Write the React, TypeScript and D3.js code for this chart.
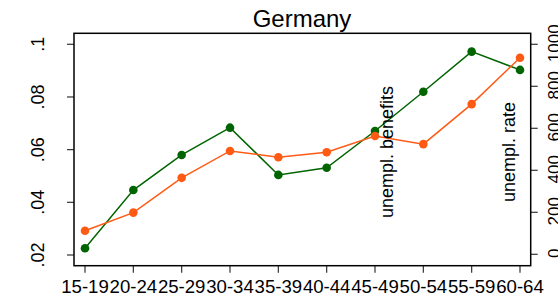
import { useEffect, useRef } from 'react';
import * as d3 from 'd3';

// age groups on the x axis
const ageGroups = ['15-19', '20-24', '25-29', '30-34', '35-39', '40-44', '45-49', '50-54', '55-59', '60-64'];
// unemployment rate (left axis)
const unemplRate = [0.0292, 0.0361, 0.0493, 0.0595, 0.0571, 0.059, 0.0652, 0.0621, 0.0773, 0.0949];
// unemployment benefits (right axis)
const unemplBenefits = [29, 306, 473, 603, 378, 412, 587, 774, 965, 878];
const leftTicks = [0.02, 0.04, 0.06, 0.08, 0.1];
const leftTickLabels = ['.02', '.04', '.06', '.08', '.1'];
const rightTicks = [0, 200, 400, 600, 800, 1000];

const App = () => {
  const svgRef = useRef<SVGSVGElement>(null);

  useEffect(() => {
    const width = 558;
    const height = 300;
    const box = { left: 74, right: 530.7, top: 33.3, bottom: 265.7 };
    const font = 'Liberation Sans, Arial, sans-serif';
    const green = '#006400';
    const orange = '#ff5a14';

    const svg = d3.select(svgRef.current)
      .attr('width', width)
      .attr('height', height)
      .style('background-color', '#ffffff');

    svg.selectAll('*').remove();

    // scales
    const x = d3.scalePoint<string>()
      .domain(ageGroups)
      .range([85, 520]);

    const yLeft = d3.scaleLinear()
      .domain([0.02, 0.1])
      .range([255, 44.3]);

    const yRight = d3.scaleLinear()
      .domain([0, 1000])
      .range([254.3, 44.3]);

    // title
    svg.append('text')
      .attr('x', 302)
      .attr('y', 26.5)
      .attr('text-anchor', 'middle')
      .style('font-family', font)
      .style('font-size', '24px')
      .text('Germany');

    // left axis
    const gl = svg.append('g').attr('transform', `translate(${box.left},0)`);
    gl.selectAll('line')
      .data(leftTicks)
      .enter()
      .append('line')
      .attr('x1', -7)
      .attr('x2', 0)
      .attr('y1', d => yLeft(d))
      .attr('y2', d => yLeft(d))
      .attr('stroke', '#333')
      .attr('stroke-width', 1.2);
    gl.selectAll('text')
      .data(leftTicks)
      .enter()
      .append('text')
      .attr('transform', d => `translate(${43.5 - box.left},${yLeft(d)})rotate(-90)`)
      .attr('text-anchor', 'middle')
      .style('font-family', font)
      .style('font-size', '18px')
      .text((d, i) => leftTickLabels[i]);

    // right axis (labels run off the right edge, as in the original)
    const gr = svg.append('g').attr('transform', `translate(${box.right},0)`);
    gr.selectAll('line')
      .data(rightTicks)
      .enter()
      .append('line')
      .attr('x1', 0)
      .attr('x2', 7)
      .attr('y1', d => yRight(d))
      .attr('y2', d => yRight(d))
      .attr('stroke', '#333')
      .attr('stroke-width', 1.2);
    gr.selectAll('text')
      .data(rightTicks)
      .enter()
      .append('text')
      .attr('transform', d => `translate(${559.5 - box.right},${yRight(d) - 1})rotate(-90)`)
      .attr('text-anchor', 'middle')
      .style('font-family', font)
      .style('font-size', '17px')
      .text(d => String(d));

    // x axis
    const gx = svg.append('g').attr('transform', `translate(0,${box.bottom})`);
    gx.selectAll('line')
      .data(ageGroups)
      .enter()
      .append('line')
      .attr('x1', d => x(d)!)
      .attr('x2', d => x(d)!)
      .attr('y1', 0)
      .attr('y2', 7)
      .attr('stroke', '#333')
      .attr('stroke-width', 1.2);
    gx.selectAll('text')
      .data(ageGroups)
      .enter()
      .append('text')
      .attr('x', d => x(d)!)
      .attr('y', 27.5)
      .attr('text-anchor', 'middle')
      .style('font-family', font)
      .style('font-size', '18.6px')
      .text(d => d);

    // plot frame
    svg.append('rect')
      .attr('x', box.left)
      .attr('y', box.top)
      .attr('width', box.right - box.left)
      .attr('height', box.bottom - box.top)
      .attr('fill', 'none')
      .attr('stroke', '#000')
      .attr('stroke-width', 1.5);

    // series
    const drawSeries = (values: number[], y: d3.ScaleLinear<number, number>, color: string) => {
      const line = d3.line<number>()
        .x((d, i) => x(ageGroups[i])!)
        .y(d => y(d));
      svg.append('path')
        .datum(values)
        .attr('d', line)
        .attr('fill', 'none')
        .attr('stroke', color)
        .attr('stroke-width', 1.5);
      svg.append('g')
        .selectAll('circle')
        .data(values)
        .enter()
        .append('circle')
        .attr('cx', (d, i) => x(ageGroups[i])!)
        .attr('cy', d => y(d))
        .attr('r', 4.3)
        .attr('fill', color);
    };

    drawSeries(unemplBenefits, yRight, green);
    drawSeries(unemplRate, yLeft, orange);

    // series labels
    svg.append('text')
      .attr('transform', 'translate(393,218)rotate(-90)')
      .style('font-family', font)
      .style('font-size', '18px')
      .text('unempl. benefits');

    svg.append('text')
      .attr('transform', 'translate(515,202)rotate(-90)')
      .style('font-family', font)
      .style('font-size', '18px')
      .text('unempl. rate');
  }, []);

  return <svg ref={svgRef} style={{ position: 'absolute', left: 0, top: 0 }}></svg>;
};

export default App;
